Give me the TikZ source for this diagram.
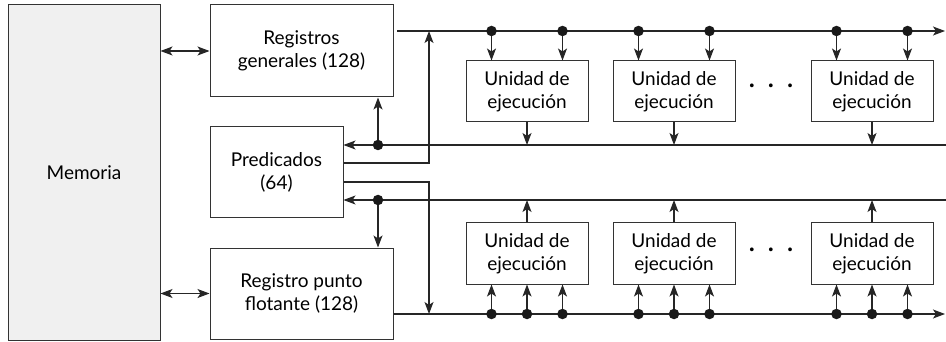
\documentclass[tikz,border=0pt]{standalone}
\usepackage{fontspec}
\setmainfont{Lato}
\usetikzlibrary{arrows.meta}
\tikzset{
	bloque/.style = {draw = black!80, line width = 1pt, minimum width = 122pt, minimum height = 61pt, align = center, inner sep = 0pt, font = \fontsize{19}{23}\selectfont},
	flecha/.style = {-{Stealth[length = 12pt, width = 9pt, inset = 3pt]}, line width = 1.1pt, draw = black!85},
	doble/.style = {{Stealth[length = 12pt, width = 9pt, inset = 3pt]}-{Stealth[length = 12pt, width = 9pt, inset = 3pt]}, line width = 1.1pt, draw = black!85},
	punto/.style = {circle, fill = black!90, minimum size = 10.5pt, inner sep = 0pt},
	suspensivos/.style = {font = \fontsize{30}{30}\selectfont, inner sep = 0pt}
}
\begin{document}
\begin{tikzpicture}[x = 1pt, y = -1pt]
\useasboundingbox (0,0) rectangle (946,342);
\node[bloque, fill = black!6, minimum width = 152pt, minimum height = 335pt] (mem) at (84,172.5) {Memoria};
\node[bloque, minimum width = 183pt, minimum height = 92pt] (rg) at (301.5,51) {Registros\\generales (128)};
\node[bloque, minimum width = 133pt, minimum height = 91pt] (pred) at (276.5,172.5) {Predicados\\(64)};
\node[bloque, minimum width = 183pt, minimum height = 91pt] (rpf) at (301.5,293.5) {Registro punto\\flotante (128)};
\draw[doble] (mem.east |- rg.west) -- (rg.west);
\draw[doble] (mem.east |- rpf.west) -- (rpf.west);
\coordinate (busA0) at (397,31);
\coordinate (busA) at (945,31);
\coordinate (sube) at (429,31);
\coordinate (retA) at (946,145);
\coordinate (nudoA) at (378,145);
\coordinate (busB) at (945,314);
\coordinate (baja) at (429,314);
\coordinate (retB) at (946,200);
\coordinate (nudoB) at (378,200);
\draw[flecha] (busA0) -- (busA);
\draw[flecha] ([yshift = 9.5pt]pred.east) -| (sube);
\draw[flecha] (retA) -- (pred.east |- retA);
\draw[flecha] (nudoA) -- (nudoA |- rg.south);
\node[punto] at (nudoA) {};
\draw[flecha] ([yshift = -9.5pt]pred.east) -| (baja);
\draw[flecha] (rpf.east |- busB) -- (busB);
\draw[flecha] (retB) -- (pred.east |- retB);
\draw[flecha] (nudoB) -- (nudoB |- rpf.north);
\node[punto] at (nudoB) {};
\foreach \x/\n in {527/1, 674/2, 872/3}
{
	\node[bloque] (us\n) at (\x,91.5) {Unidad de\\ejecución};
	\node[bloque] (ui\n) at (\x,253.5) {Unidad de\\ejecución};
	\draw[flecha] (us\n.south) -- (us\n.south |- retA);
	\draw[flecha] (ui\n.north) -- (ui\n.north |- retB);
	\foreach \d/\m in {-35.5/a, 35.5/b}
	{
		\node[punto] (pa\n\m) at ({\x+\d},31) {};
		\draw[flecha] (pa\n\m) -- (pa\n\m |- us\n.north);
	}
	\foreach \d/\m in {-35.5/a, 0/b, 35.5/c}
	{
		\node[punto] (pb\n\m) at ({\x+\d},314) {};
		\draw[flecha] (pb\n\m) -- (pb\n\m |- ui\n.south);
	}
}
\node[suspensivos] (susA) at (771,86) {.\hspace{12pt}.\hspace{12pt}.};
\node[suspensivos] (susB) at (771,250) {.\hspace{12pt}.\hspace{12pt}.};
\end{tikzpicture}
\end{document}
